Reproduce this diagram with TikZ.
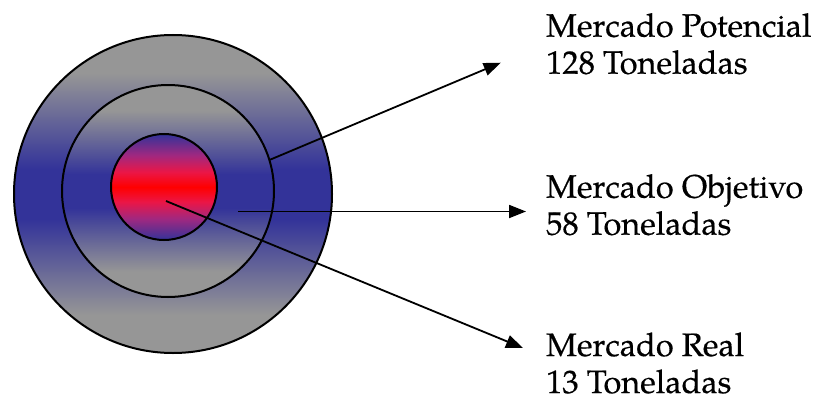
\documentclass[tikz,border=0pt]{standalone}
\usepackage{fontspec}
\setmainfont{texgyrepagella}[Extension=.otf, UprightFont=*-regular, FakeBold=0.4]
\usetikzlibrary{arrows.meta}

% palette
\definecolor{ringgray}{RGB}{150,150,150}
\definecolor{ringblue}{RGB}{51,51,153}
\definecolor{corepurple}{RGB}{160,40,128}
\definecolor{corecrimson}{RGB}{235,22,70}
\definecolor{corered}{RGB}{255,0,0}

% gray -> blue -> gray band for the two outer rings
\pgfdeclareverticalshading{ringshade}{100bp}{color(0bp)=(ringgray); color(31bp)=(ringgray); color(46bp)=(ringblue); color(54bp)=(ringblue); color(69bp)=(ringgray); color(100bp)=(ringgray)}
% blue -> red -> blue for the core
\pgfdeclareverticalshading{coreshade}{100bp}{color(0bp)=(ringblue); color(25bp)=(ringblue); color(35bp)=(corepurple); color(43bp)=(corecrimson); color(50bp)=(corered); color(57bp)=(corecrimson); color(65bp)=(corepurple); color(75bp)=(ringblue); color(100bp)=(ringblue)}

\begin{document}
\begin{tikzpicture}[x=1pt, y=-1pt,
  disc/.style={circle, draw=black, line width=2pt, inner sep=0pt, outer sep=0pt},
  pointer/.style={line width=1.8pt, -{Triangle[length=17pt, width=13pt]}},
  tag/.style={anchor=base west, inner sep=0pt, font=\fontsize{32.5}{37}\selectfont}]

  \useasboundingbox (0,0) rectangle (813,396);

  % target rings
  \node[disc, shading=ringshade, minimum size=318pt] (outer)  at (173,194) {};
  \node[disc, shading=ringshade, minimum size=212pt] (middle) at (168,191) {};
  \node[disc, shading=coreshade, minimum size=106pt] (core)   at (164,187) {};

  % captions
  \node[tag] (potencial) at (546,36.7)
    {\begin{tabular}[t]{@{}l@{}}Mercado Potencial\\128 Toneladas\end{tabular}};
  \node[tag] (objetivo) at (546,197.7)
    {\begin{tabular}[t]{@{}l@{}}Mercado Objetivo\\58 Toneladas\end{tabular}};
  \node[tag] (real) at (546,356)
    {\begin{tabular}[t]{@{}l@{}}Mercado Real\\13 Toneladas\end{tabular}};

  % pointer ends
  \coordinate (potS)  at (middle.17);
  \coordinate (potE)  at (500.7,62.7);
  \coordinate (objS)  at (238,211.5);
  \coordinate (objE)  at (526,211.5);
  \coordinate (realS) at (166,201);
  \coordinate (realE) at (523,348);

  \draw[pointer] (potS)  -- (potE);
  \draw[pointer] (objS)  -- (objE);
  \draw[pointer] (realS) -- (realE);
\end{tikzpicture}
\end{document}
